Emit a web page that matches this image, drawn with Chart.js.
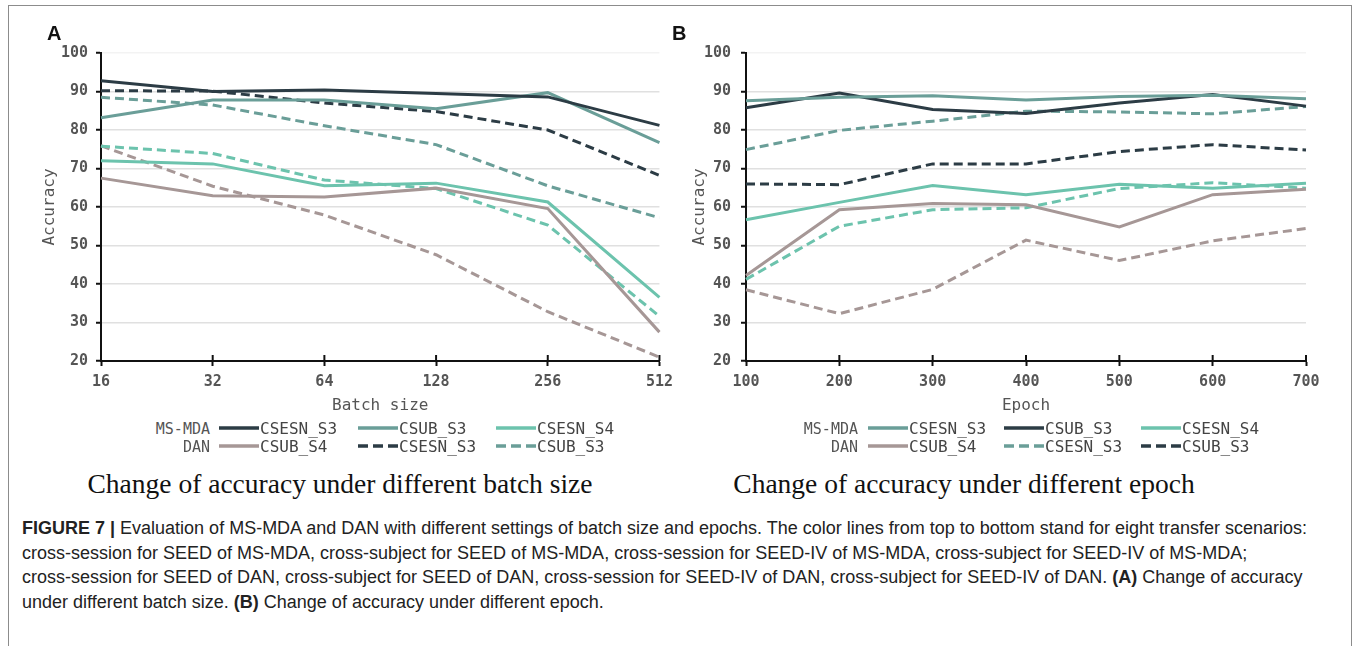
<!DOCTYPE html>
<html>
<head>
<meta charset="utf-8">
<script src="https://cdn.jsdelivr.net/npm/chart.js@4.4.1/dist/chart.umd.min.js"></script>
<style>
  body { margin: 0; background: #fff; }
  #page { position: relative; width: 1360px; height: 646px; overflow: hidden; font-family: "DejaVu Sans Mono", monospace; }
  #frame { position: absolute; left: 8px; top: 5px; width: 1342px; height: 700px; border: 1.5px solid #8c8c8c; }
  .panel { position: absolute; top: 0; }
  .tag { position: absolute; top: 22px; font: bold 20px "Liberation Sans", Arial, sans-serif; color: #111; }
  .rowlab { position: absolute; font-size: 15px; color: #555; text-align: right; white-space: nowrap; line-height: 18px; }
  .item { position: absolute; font-size: 16px; color: #444; white-space: nowrap; line-height: 18px; }
  .item svg { vertical-align: middle; margin-right: 1px; margin-top: -3px; }
  .sub { position: absolute; font: 27.5px "Liberation Serif", "Times New Roman", serif; color: #111; white-space: nowrap; transform: translate(-50%, -50%); }
  #caption { position: absolute; left: 22px; top: 516px; font: 18px "Liberation Sans", Arial, sans-serif; color: #222; line-height: 24.5px; white-space: nowrap; }
</style>
</head>
<body>
<div id="page">
  <div id="frame"></div>
  <canvas id="chartA" class="panel" width="680" height="420" style="left:0"></canvas>
  <canvas id="chartB" class="panel" width="680" height="420" style="left:680px"></canvas>
  <div class="tag" style="left:47px">A</div>
  <div class="tag" style="left:672px">B</div>
  <div id="legendA"></div>
  <div id="legendB"></div>
  <div class="sub" style="left:340px; top:484px">Change of accuracy under different batch size</div>
  <div class="sub" style="left:964px; top:484px">Change of accuracy under different epoch</div>
  <div id="caption"><b>FIGURE 7 |</b> Evaluation of MS-MDA and DAN with different settings of batch size and epochs. The color lines from top to bottom stand for eight transfer scenarios:<br>cross-session for SEED of MS-MDA, cross-subject for SEED of MS-MDA, cross-session for SEED-IV of MS-MDA, cross-subject for SEED-IV of MS-MDA;<br>cross-session for SEED of DAN, cross-subject for SEED of DAN, cross-session for SEED-IV of DAN, cross-subject for SEED-IV of DAN. <b>(A)</b> Change of accuracy<br>under different batch size. <b>(B)</b> Change of accuracy under different epoch.</div>
</div>
<script>
// panel A: batch size
var batchSizes = ['16', '32', '64', '128', '256', '512'];
var batchMsmdaSessSeed = [92.8, 90.0, 90.4, 89.5, 88.6, 81.2];
var batchMsmdaSubjSeed = [83.2, 87.8, 87.8, 85.5, 89.7, 76.7];
var batchMsmdaSessSeed4 = [72.0, 71.2, 65.5, 66.2, 61.3, 36.5];
var batchMsmdaSubjSeed4 = [67.5, 62.9, 62.6, 64.9, 59.6, 27.5];
var batchDanSessSeed = [90.2, 90.1, 87.0, 84.8, 80.0, 68.2];
var batchDanSubjSeed = [88.5, 86.5, 81.1, 76.2, 65.5, 57.2];
var batchDanSessSeed4 = [75.8, 73.9, 67.0, 64.8, 55.3, 31.6];
var batchDanSubjSeed4 = [75.9, 65.4, 57.9, 47.6, 32.8, 21.0];

// panel B: epoch
var epochs = ['100', '200', '300', '400', '500', '600', '700'];
var epochMsmdaSessSeed = [87.6, 88.5, 88.9, 87.8, 88.7, 89.0, 88.1];
var epochMsmdaSubjSeed = [85.8, 89.6, 85.3, 84.3, 87.0, 89.2, 86.2];
var epochMsmdaSessSeed4 = [56.7, 61.2, 65.6, 63.2, 65.9, 64.9, 66.2];
var epochMsmdaSubjSeed4 = [42.2, 59.3, 60.9, 60.6, 54.8, 63.2, 64.6];
var epochDanSessSeed = [74.9, 79.9, 82.3, 84.9, 84.7, 84.2, 86.1];
var epochDanSubjSeed = [66.0, 65.8, 71.2, 71.2, 74.4, 76.2, 74.8];
var epochDanSessSeed4 = [41.2, 55.0, 59.3, 59.8, 64.8, 66.3, 64.9];
var epochDanSubjSeed4 = [38.5, 32.3, 38.6, 51.4, 46.1, 51.2, 54.4];

var yTicks = [20, 30, 40, 50, 60, 70, 80, 90, 100];
var legendRows = ['MS-MDA', 'DAN'];

var DARK = '#2c3c45', TEAL = '#6a9e98', MINT = '#6cc3ad', MAUVE = '#a69796';
var DASH = [9, 5];

function line(label, data, color, dashed) {
    return {
        label: label,
        data: data,
        borderColor: color,
        borderWidth: 3,
        borderDash: dashed ? DASH : [],
        pointRadius: 0,
        tension: 0,
        fill: false
    };
}

// x ticks in the picture cross the axis, chart.js only draws the outer half
var crossTicks = {
    id: 'crossTicks',
    beforeDatasetsDraw: function (chart) {
        var xs = chart.scales.x, ctx = chart.ctx, y0 = chart.chartArea.bottom;
        ctx.save();
        ctx.strokeStyle = '#111';
        ctx.lineWidth = 2;
        xs.ticks.forEach(function (t, i) {
            var px = xs.getPixelForTick(i);
            ctx.beginPath();
            ctx.moveTo(px, y0 - 6);
            ctx.lineTo(px, y0);
            ctx.stroke();
        });
        ctx.restore();
    }
};

function options(yWidth, yTitlePad, yTickPad, rightPad, xTitle) {
    var tickFont = { family: 'DejaVu Sans Mono', size: 15, weight: 'bold' };
    var titleFont = { family: 'DejaVu Sans Mono', size: 16 };
    return {
        responsive: false,
        animation: false,
        layout: { padding: { top: 53, right: rightPad, left: 0, bottom: 0 } },
        plugins: { legend: { display: false }, tooltip: { enabled: false } },
        scales: {
            x: {
                afterFit: function (s) { s.height = 59; },
                grid: { display: true, drawOnChartArea: false, tickLength: 5, tickColor: '#111', tickWidth: 2 },
                border: { display: true, color: '#111', width: 2 },
                ticks: { color: '#555', font: tickFont, padding: 7, maxRotation: 0 },
                title: { display: true, text: xTitle, color: '#555', font: titleFont, padding: { top: 0, bottom: 5 } }
            },
            y: {
                min: yTicks[0],
                max: yTicks[yTicks.length - 1],
                afterFit: function (s) { s.width = yWidth; },
                afterBuildTicks: function (s) { s.ticks = yTicks.map(function (v) { return { value: v }; }); },
                grid: {
                    color: function (c) { return c.tick && c.tick.value === 100 ? '#f3f3f3' : '#e0e0e0'; },
                    lineWidth: 1.5, tickLength: 5, tickColor: '#111', tickWidth: 2
                },
                border: { display: true, color: '#111', width: 2 },
                ticks: { color: '#555', font: tickFont, padding: yTickPad },
                title: { display: true, text: 'Accuracy', color: '#555', font: titleFont, padding: { top: yTitlePad, bottom: 0 } }
            }
        }
    };
}

var setsA = [
    line('CSESN_S3', batchMsmdaSessSeed, DARK, false),
    line('CSUB_S3', batchMsmdaSubjSeed, TEAL, false),
    line('CSESN_S4', batchMsmdaSessSeed4, MINT, false),
    line('CSUB_S4', batchMsmdaSubjSeed4, MAUVE, false),
    line('CSESN_S3', batchDanSessSeed, DARK, true),
    line('CSUB_S3', batchDanSubjSeed, TEAL, true),
    line('CSESN_S4', batchDanSessSeed4, MINT, true),
    line('CSUB_S4', batchDanSubjSeed4, MAUVE, true)
];

var setsB = [
    line('CSESN_S3', epochMsmdaSessSeed, TEAL, false),
    line('CSUB_S3', epochMsmdaSubjSeed, DARK, false),
    line('CSESN_S4', epochMsmdaSessSeed4, MINT, false),
    line('CSUB_S4', epochMsmdaSubjSeed4, MAUVE, false),
    line('CSESN_S3', epochDanSessSeed, TEAL, true),
    line('CSUB_S3', epochDanSubjSeed, DARK, true),
    line('CSESN_S4', epochDanSessSeed4, MINT, true),
    line('CSUB_S4', epochDanSubjSeed4, MAUVE, true)
];

new Chart(document.getElementById('chartA'), {
    type: 'line',
    data: { labels: batchSizes, datasets: setsA },
    options: options(101, 40, 8, 20, 'Batch size'),
    plugins: [crossTicks]
});

new Chart(document.getElementById('chartB'), {
    type: 'line',
    data: { labels: epochs, datasets: setsB },
    options: options(66, 10, 10, 54, 'Epoch'),
    plugins: [crossTicks]
});

// legend: 3 columns x 2 rows, only the first six series are named, like the original
function legend(id, sets, labelRight, cols) {
    var box = document.getElementById(id);
    var rowY = [420, 438];
    legendRows.forEach(function (name, r) {
        var lab = document.createElement('div');
        lab.className = 'rowlab';
        lab.style.left = (labelRight - 80) + 'px';
        lab.style.width = '80px';
        lab.style.top = rowY[r] + 'px';
        lab.textContent = name;
        box.appendChild(lab);
        for (var c = 0; c < 3; c++) {
            var ds = sets[r * 3 + c];
            var it = document.createElement('div');
            it.className = 'item';
            it.style.left = cols[c] + 'px';
            it.style.top = rowY[r] + 'px';
            var dash = ds.borderDash.length ? 'stroke-dasharray="10 5"' : '';
            it.innerHTML = '<svg width="40" height="8"><line x1="0" y1="4" x2="40" y2="4" stroke="' +
                ds.borderColor + '" stroke-width="3.5" ' + dash + '/></svg>' + ds.label;
            box.appendChild(it);
        }
    });
}

legend('legendA', setsA, 210, [219, 358, 496]);
legend('legendB', setsB, 858, [868, 1004, 1141]);
</script>
</body>
</html>
